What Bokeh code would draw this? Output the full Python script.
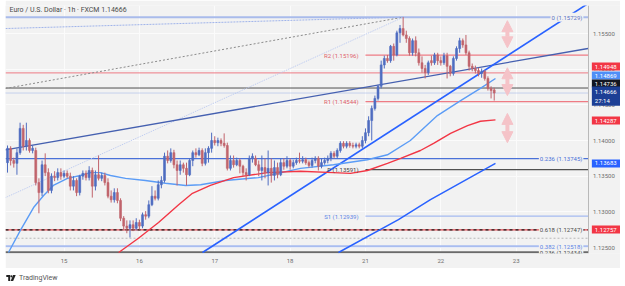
from bokeh.plotting import figure
from bokeh.models import (Range1d, FixedTicker, Label, Arrow, NormalHead, Div,
                          NumeralTickFormatter)
from bokeh.layouts import column
from bokeh.embed import file_html
from bokeh.resources import INLINE

# ---------------- data (EUR/USD 1h) ----------------
opens = [
    1.1369, 1.1389, 1.1372, 1.1368, 1.1383, 1.1417, 1.1392, 1.1400, 1.1386, 1.1386,
    1.1341, 1.1327, 1.1366, 1.1355, 1.1330, 1.1350, 1.1348, 1.1355, 1.1350, 1.1354,
    1.1350, 1.1336, 1.1344, 1.1327, 1.1350, 1.1354, 1.1348, 1.1358, 1.1336, 1.1352,
    1.1347, 1.1351, 1.1341, 1.1322, 1.1317, 1.1327, 1.1316, 1.1291, 1.1280, 1.1277,
    1.1282, 1.1277, 1.1285, 1.1280, 1.1296, 1.1294, 1.1310, 1.1322, 1.1319, 1.1338,
    1.1344, 1.1378, 1.1372, 1.1383, 1.1366, 1.1358, 1.1366, 1.1361, 1.1352, 1.1372,
    1.1383, 1.1380, 1.1386, 1.1368, 1.1383, 1.1389, 1.1400, 1.1397, 1.1400, 1.1396,
    1.1393, 1.1361, 1.1372, 1.1366, 1.1372, 1.1364, 1.1355, 1.1352, 1.1375, 1.1375,
    1.1366, 1.1358, 1.1362, 1.1355, 1.1361, 1.1351, 1.1362, 1.1352, 1.1369, 1.1364,
    1.1372, 1.1364, 1.1369, 1.1372, 1.1371, 1.1373, 1.1369, 1.1365, 1.1372, 1.1375,
    1.1364, 1.1369, 1.1372, 1.1375, 1.1382, 1.1378, 1.1386, 1.1396, 1.1392, 1.1396,
    1.1393, 1.1392, 1.1394, 1.1392, 1.1400, 1.1411, 1.1428, 1.1445, 1.1459, 1.1476,
    1.1506, 1.1515, 1.1512, 1.1532, 1.1520, 1.1551, 1.1557, 1.1548, 1.1543, 1.1523,
    1.1540, 1.1523, 1.1509, 1.1501, 1.1495, 1.1512, 1.1509, 1.1520, 1.1512, 1.1509,
    1.1519, 1.1504, 1.1494, 1.1515, 1.1529, 1.1540, 1.1534, 1.1523, 1.1504, 1.1501,
    1.1498, 1.1494, 1.1497, 1.1487, 1.1473, 1.1471]
highs = [
    1.1393, 1.1392, 1.1376, 1.1389, 1.1425, 1.1422, 1.1425, 1.1403, 1.1393, 1.1390,
    1.1347, 1.1372, 1.1382, 1.1361, 1.1354, 1.1357, 1.1361, 1.1361, 1.1358, 1.1358,
    1.1355, 1.1350, 1.1347, 1.1352, 1.1358, 1.1358, 1.1364, 1.1362, 1.1358, 1.1379,
    1.1355, 1.1355, 1.1347, 1.1330, 1.1333, 1.1333, 1.1319, 1.1294, 1.1288, 1.1288,
    1.1288, 1.1291, 1.1289, 1.1299, 1.1301, 1.1316, 1.1336, 1.1330, 1.1344, 1.1350,
    1.1383, 1.1386, 1.1389, 1.1387, 1.1372, 1.1372, 1.1369, 1.1369, 1.1375, 1.1386,
    1.1389, 1.1390, 1.1389, 1.1389, 1.1392, 1.1411, 1.1406, 1.1404, 1.1403, 1.1410,
    1.1397, 1.1379, 1.1379, 1.1376, 1.1375, 1.1366, 1.1361, 1.1379, 1.1382, 1.1379,
    1.1372, 1.1379, 1.1375, 1.1386, 1.1375, 1.1372, 1.1369, 1.1375, 1.1375, 1.1378,
    1.1375, 1.1373, 1.1376, 1.1383, 1.1378, 1.1376, 1.1372, 1.1376, 1.1378, 1.1378,
    1.1375, 1.1376, 1.1379, 1.1385, 1.1385, 1.1389, 1.1399, 1.1399, 1.1399, 1.1399,
    1.1397, 1.1397, 1.1397, 1.1406, 1.1417, 1.1434, 1.1449, 1.1463, 1.1478, 1.1512,
    1.1519, 1.1520, 1.1534, 1.1536, 1.1554, 1.1562, 1.1573, 1.1554, 1.1546, 1.1543,
    1.1546, 1.1529, 1.1518, 1.1506, 1.1512, 1.1519, 1.1523, 1.1523, 1.1518, 1.1523,
    1.1523, 1.1506, 1.1518, 1.1532, 1.1544, 1.1543, 1.1548, 1.1526, 1.1508, 1.1505,
    1.1502, 1.1501, 1.1499, 1.1490, 1.1476, 1.1474]
lows = [
    1.1355, 1.1365, 1.1362, 1.1352, 1.1380, 1.1386, 1.1386, 1.1383, 1.1382, 1.1337,
    1.1298, 1.1322, 1.1350, 1.1326, 1.1326, 1.1343, 1.1344, 1.1345, 1.1347, 1.1347,
    1.1330, 1.1330, 1.1322, 1.1323, 1.1345, 1.1344, 1.1344, 1.1320, 1.1330, 1.1344,
    1.1343, 1.1337, 1.1319, 1.1313, 1.1313, 1.1312, 1.1287, 1.1274, 1.1270, 1.1264,
    1.1273, 1.1274, 1.1275, 1.1277, 1.1289, 1.1291, 1.1308, 1.1316, 1.1316, 1.1333,
    1.1341, 1.1368, 1.1369, 1.1361, 1.1337, 1.1352, 1.1355, 1.1337, 1.1350, 1.1364,
    1.1376, 1.1378, 1.1364, 1.1365, 1.1369, 1.1383, 1.1393, 1.1392, 1.1392, 1.1390,
    1.1358, 1.1358, 1.1362, 1.1364, 1.1354, 1.1350, 1.1344, 1.1350, 1.1369, 1.1364,
    1.1350, 1.1344, 1.1347, 1.1337, 1.1341, 1.1344, 1.1347, 1.1350, 1.1359, 1.1361,
    1.1359, 1.1361, 1.1366, 1.1368, 1.1368, 1.1366, 1.1362, 1.1362, 1.1368, 1.1358,
    1.1361, 1.1366, 1.1368, 1.1371, 1.1375, 1.1375, 1.1383, 1.1389, 1.1389, 1.1390,
    1.1389, 1.1389, 1.1389, 1.1389, 1.1396, 1.1406, 1.1400, 1.1442, 1.1456, 1.1473,
    1.1501, 1.1509, 1.1509, 1.1512, 1.1518, 1.1537, 1.1546, 1.1537, 1.1519, 1.1519,
    1.1518, 1.1505, 1.1495, 1.1487, 1.1492, 1.1505, 1.1506, 1.1506, 1.1505, 1.1506,
    1.1487, 1.1490, 1.1491, 1.1512, 1.1523, 1.1530, 1.1520, 1.1498, 1.1497, 1.1494,
    1.1490, 1.1488, 1.1484, 1.1470, 1.1459, 1.1456]
closes = [
    1.1389, 1.1372, 1.1368, 1.1383, 1.1417, 1.1392, 1.1400, 1.1386, 1.1389, 1.1341,
    1.1327, 1.1366, 1.1355, 1.1330, 1.1350, 1.1348, 1.1355, 1.1350, 1.1354, 1.1350,
    1.1336, 1.1344, 1.1327, 1.1350, 1.1354, 1.1348, 1.1358, 1.1336, 1.1352, 1.1347,
    1.1351, 1.1341, 1.1322, 1.1317, 1.1327, 1.1316, 1.1291, 1.1280, 1.1277, 1.1282,
    1.1277, 1.1285, 1.1280, 1.1296, 1.1294, 1.1310, 1.1322, 1.1319, 1.1338, 1.1344,
    1.1378, 1.1372, 1.1383, 1.1366, 1.1358, 1.1366, 1.1361, 1.1352, 1.1372, 1.1383,
    1.1380, 1.1386, 1.1368, 1.1383, 1.1389, 1.1400, 1.1397, 1.1400, 1.1396, 1.1393,
    1.1361, 1.1372, 1.1366, 1.1372, 1.1364, 1.1355, 1.1352, 1.1375, 1.1378, 1.1366,
    1.1358, 1.1362, 1.1355, 1.1361, 1.1351, 1.1362, 1.1352, 1.1369, 1.1364, 1.1372,
    1.1364, 1.1369, 1.1372, 1.1371, 1.1373, 1.1369, 1.1365, 1.1372, 1.1375, 1.1364,
    1.1369, 1.1372, 1.1375, 1.1382, 1.1378, 1.1386, 1.1396, 1.1392, 1.1396, 1.1393,
    1.1392, 1.1394, 1.1392, 1.1400, 1.1411, 1.1428, 1.1445, 1.1459, 1.1476, 1.1506,
    1.1515, 1.1512, 1.1532, 1.1520, 1.1551, 1.1557, 1.1548, 1.1543, 1.1523, 1.1540,
    1.1523, 1.1509, 1.1501, 1.1495, 1.1509, 1.1509, 1.1520, 1.1512, 1.1509, 1.1519,
    1.1504, 1.1494, 1.1515, 1.1529, 1.1540, 1.1534, 1.1523, 1.1504, 1.1501, 1.1498,
    1.1494, 1.1497, 1.1487, 1.1473, 1.1470, 1.14666]

# moving averages (bar index, price)
ma_fast_x = [0.3, 4.1, 8.3, 11.5, 14.6, 19.1, 23.2, 26.4, 29.6, 32.8, 37.6, 43.9, 50.3,
             56.7, 61.5, 69.4, 79.9, 93.3, 103.8, 114.6, 121.0, 128.3, 136.9, 144.3,
             150.6, 155.4]
ma_fast_y = [1.1243, 1.1274, 1.1306, 1.1323, 1.1337, 1.1347, 1.1351, 1.1355, 1.1355,
             1.1351, 1.1347, 1.1344, 1.1340, 1.1337, 1.1338, 1.1344, 1.1348, 1.1361,
             1.1366, 1.1373, 1.1380, 1.1400, 1.1435, 1.1456, 1.1473, 1.1487]
ma_slow_x = [35.4, 41.7, 48.1, 54.5, 58.9, 64.6, 72.0, 82.8, 93.3, 103.8, 109.2, 114.6,
             121.0, 125.2, 131.5, 135.7, 141.1, 146.5, 150.6, 155.4]
ma_slow_y = [1.1243, 1.1263, 1.1285, 1.1310, 1.1326, 1.1337, 1.1348, 1.1355, 1.1357,
             1.1355, 1.1354, 1.1358, 1.1368, 1.1375, 1.1386, 1.1396, 1.1410, 1.1421,
             1.1427, 1.1429]
ma_long_x = [105.4, 124.5, 134.7, 155.4]
ma_long_y = [1.1243, 1.1289, 1.1317, 1.1368]

# drawn trend lines: (x0, y0, x1, y1) in bar index / price
trend_navy = (-0.64, 1.1387, 184.87, 1.1529)
trend_bright = (62.1, 1.1243, 184.87, 1.1592)
fib_links = [(-0.64, 1.1473, 126.1, 1.1573),
             (-0.64, 1.1557, 126.1, 1.1573),
             (-0.64, 1.1320, 126.1, 1.1573)]

fib_levels = ["0.236 (1.12434)", "0 (1.15729)", "0.236 (1.13745)", "0.618 (1.12747)",
              "0.382 (1.12518)"]
fib_prices = [1.12434, 1.15729, 1.13745, 1.12747, 1.12518]
pivot_names = ["R2 (1.15196)", "R1 (1.14544)", "P (1.13591)", "S1 (1.12939)"]
pivot_prices = [1.15196, 1.14544, 1.13591, 1.12939]
extra_levels = [1.14948, 1.14736, 1.14666, 1.12630]

tag_texts = ["1.14948", "1.14869", "1.14736", "1.14666\n27:14", "1.14287", "1.13683",
             "1.12757"]
tag_pos = [1.15037, 1.14911, 1.14799, 1.14622, 1.14280, 1.13678, 1.12752]

price_ticks = [1.125, 1.130, 1.135, 1.140, 1.145, 1.150, 1.155]
day_ticks = [18, 42, 66, 90, 114, 138, 162]
day_labels = ["15", "16", "17", "18", "21", "22", "23"]

arrows_y = [(1.1530, 1.1568), (1.1463, 1.1502), (1.1397, 1.1438)]
arrow_x = 159.2

# ---------------- styling ----------------
BG = "#f2f2f2"
GRID = "#fbfbfb"
UP = "#4f6dc1"
DN = "#c1646c"
FONT = "Roboto"
FS = "6px"
XL, XR, XS = -0.64, 184.87, 195.22   # frame left, price-scale edge, frame right
YB, YT = 1.12416, 1.15893

p = figure(width=615, height=268, x_range=Range1d(XL, XS), y_range=Range1d(YB, YT),
           output_backend="svg", toolbar_location=None, y_axis_location="right",
           min_border_left=0, min_border_right=0, min_border_top=5,
           min_border_bottom=15, background_fill_color=BG, border_fill_color=BG,
           outline_line_color=None)

p.yaxis.fixed_location = XR
p.yaxis.ticker = FixedTicker(ticks=price_ticks)
p.yaxis.formatter = NumeralTickFormatter(format="0.00000")
p.yaxis.major_tick_line_color = None
p.yaxis.minor_tick_line_color = None
p.yaxis.major_tick_out = 0
p.yaxis.major_tick_in = 0
p.yaxis.axis_line_color = "#b9b9b9"
p.yaxis.major_label_text_font_size = FS
p.yaxis.major_label_text_color = "#6e6e6e"
p.yaxis.major_label_text_font = FONT
p.yaxis.major_label_standoff = 5

p.xaxis.ticker = FixedTicker(ticks=day_ticks)
p.xaxis.major_label_overrides = {t: l for t, l in zip(day_ticks, day_labels)}
p.xaxis.axis_line_color = None
p.xaxis.major_tick_line_color = None
p.xaxis.minor_tick_line_color = None
p.xaxis.major_tick_out = 0
p.xaxis.major_tick_in = 0
p.xaxis.major_label_text_font_size = FS
p.xaxis.major_label_text_color = "#6e6e6e"
p.xaxis.major_label_text_font = FONT
p.xaxis.major_label_standoff = 5

p.xgrid.ticker = FixedTicker(ticks=day_ticks)
p.ygrid.ticker = FixedTicker(ticks=price_ticks)
p.xgrid.grid_line_color = GRID
p.ygrid.grid_line_color = GRID

# price-scale panel (hides the grid there)
p.quad(left=[XR], right=[XS], bottom=[YB], top=[YT], fill_color=BG, line_color=None)

# full-width horizontal levels
def hline(y, color, width=1.0, dash="solid", alpha=1.0):
    p.segment(x0=[XL], y0=[y], x1=[XR], y1=[y], line_color=color, line_width=width,
              line_dash=dash, line_alpha=alpha)

hline(fib_prices[1], "#a9bbeb", 2)
hline(extra_levels[0], "#ee7b84", 1)
hline(extra_levels[1], "#505050", 1)
hline(extra_levels[2], "#97aee6", 1, "1 1")
hline(fib_prices[2], "#4a71d8", 1.2)
hline(fib_prices[3], "#e04a52", 1.2)
hline(fib_prices[3], "#1a1a1a", 1.2, "3 3")
hline(extra_levels[3], "#b8b8b8", 1, "2 2")
hline(fib_prices[4], "#a9bdf0", 2)
hline(fib_prices[0], "#6a6a6a", 2)

# pivot lines (from Monday)
piv_colors = ["#ee7b84", "#ee7b84", "#505050", "#a4baf0"]
for y, c in zip(pivot_prices, piv_colors):
    p.segment(x0=[114], y0=[y], x1=[XR], y1=[y], line_color=c, line_width=1.2)

# fib connector lines
p.segment(x0=[fib_links[0][0]], y0=[fib_links[0][1]], x1=[fib_links[0][2]],
          y1=[fib_links[0][3]], line_color="#8a8a8a", line_width=1, line_dash="2 2")
p.segment(x0=[fib_links[1][0]], y0=[fib_links[1][1]], x1=[fib_links[1][2]],
          y1=[fib_links[1][3]], line_color="#9fb3ea", line_width=1, line_dash="2 1")
p.segment(x0=[fib_links[2][0]], y0=[fib_links[2][1]], x1=[fib_links[2][2]],
          y1=[fib_links[2][3]], line_color="#b9c8f0", line_width=1, line_dash="1 1")

# trend lines
p.segment(x0=[trend_navy[0]], y0=[trend_navy[1]], x1=[trend_navy[2]], y1=[trend_navy[3]],
          line_color="#4560b0", line_width=1.3)
p.segment(x0=[trend_bright[0]], y0=[trend_bright[1]], x1=[trend_bright[2]],
          y1=[trend_bright[3]], line_color="#2962ff", line_width=1.6)

# moving averages
p.line(ma_fast_x, ma_fast_y, line_color="#5b9cf6", line_width=1.4)
p.line(ma_slow_x, ma_slow_y, line_color="#f23645", line_width=1.4)
p.line(ma_long_x, ma_long_y, line_color="#2962ff", line_width=1.5)

# candles
idx = list(range(len(closes)))
colors = [UP if c >= o else DN for o, c in zip(opens, closes)]
tops = [max(o, c) for o, c in zip(opens, closes)]
bots = [min(o, c) for o, c in zip(opens, closes)]
p.segment(x0=idx, y0=lows, x1=idx, y1=highs, line_color=colors, line_width=1)
p.vbar(x=idx, top=tops, bottom=bots, width=0.62, fill_color=colors, line_color=colors,
       line_width=0.6)

# arrows
PINK = "#f5c3c8"
for y0, y1 in arrows_y:
    p.add_layout(Arrow(x_start=arrow_x, y_start=y0, x_end=arrow_x, y_end=y1,
                       line_color=PINK, line_width=4,
                       start=NormalHead(size=11, fill_color=PINK, line_color=PINK),
                       end=NormalHead(size=11, fill_color=PINK, line_color=PINK)))

# level labels
fib_colors = ["#4a4a4a", "#5a72c4", "#4a71d8", "#4a4a4a", "#5b84e6"]
for t, y, c in zip(fib_levels, fib_prices, fib_colors):
    p.add_layout(Label(x=183.4, y=y, text=t, text_align="right", text_baseline="middle",
                       text_color=c, text_font_size=FS, text_font=FONT,
                       background_fill_color=BG, padding=1))
piv_text_colors = ["#e0616b", "#e0616b", "#404040", "#5b84e6"]
for t, y, c in zip(pivot_names, pivot_prices, piv_text_colors):
    p.add_layout(Label(x=111.8, y=y, text=t, text_align="right", text_baseline="middle",
                       text_color=c, text_font_size=FS, text_font=FONT))

# price tags on the scale
tag_colors = ["#f23645", "#4f8ff7", "#131722", "#1c3f95", "#f23645", "#2962ff",
              "#f23645"]
for t, y, c in zip(tag_texts, tag_pos, tag_colors):
    p.add_layout(Label(x=186.1, y=y, text=t, text_align="left", text_baseline="middle",
                       text_color="white", text_font_size=FS, text_font=FONT,
                       background_fill_color=c,
                       padding=dict(left=3, right=5, top=2, bottom=2)))

# title
p.add_layout(Label(x=0.64, y=1.1583, text="Euro / U.S. Dollar \u00b7 1h \u00b7 FXCM  1.14666",
                   text_align="left", text_baseline="middle", text_color="#4a4a4a",
                   text_font_size="7px", text_font=FONT))

logo = Div(text=(
    '<div style="display:flex;align-items:center;gap:3px;padding:5px 0 0 6px;'
    'font-family:Roboto;font-size:7px;color:#555555;">'
    '<svg width="10" height="6" viewBox="0 0 22 14"><path d="M0 0h9v14h-4.5v-9.5h-4.5z" fill="#222"/>'
    '<circle cx="12" cy="3" r="2.6" fill="#222"/><path d="M16 0h6l-6 14h-6z" fill="#222"/></svg>'
    '<span>TradingView</span></div>'), width=620, height=18)
logo.margin = (0, 0, 0, 0)
p.margin = (0, 0, 0, 5)

layout = column(p, logo, spacing=0)
open("out.html", "w").write(file_html(layout, INLINE))
